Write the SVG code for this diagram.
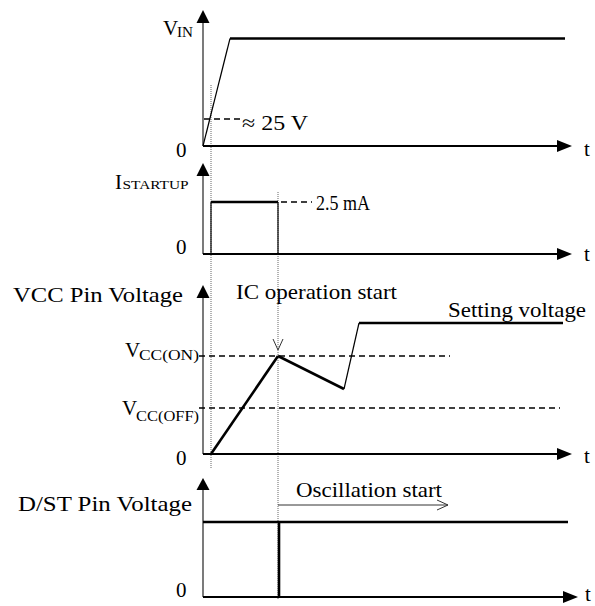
<svg xmlns="http://www.w3.org/2000/svg" width="595" height="606" viewBox="0 0 595 606">
<style>
text{font-family:'Liberation Serif',Tinos,'Nimbus Roman','Nimbus Roman No9 L','Times New Roman',Times,serif;fill:#000}
.lbl{font-size:21px}
.sub{font-size:14px}
.axis{stroke:#000;stroke-width:2;fill:none}
.yaxis{stroke:#333;stroke-width:1.3;fill:none}
.thick{stroke:#000;stroke-width:2.6;fill:none}
.thin{stroke:#000;stroke-width:1.2;fill:none}
.dash{stroke:#000;stroke-width:1.3;stroke-dasharray:6 4;fill:none}
.dot{stroke:#666;stroke-width:1;stroke-dasharray:1 1;fill:none}
.head{fill:#000}
.open{stroke:#333;stroke-width:1;fill:none}
</style>
<rect width="595" height="606" fill="#fff"/>

<g id="guides">
  <line class="dot" x1="211" y1="85" x2="211" y2="468"/>
  <line class="dot" x1="278" y1="192" x2="278" y2="600"/>
</g>

<g id="vin" font-family="Liberation Serif">
  <line class="yaxis" x1="203" y1="20" x2="203" y2="146"/>
  <polygon class="head" points="203,10 196.5,23 209.5,23"/>
  <line class="axis" x1="203" y1="146" x2="560" y2="146"/>
  <polygon class="head" points="572,146 557,140 557,152"/>
  <text class="lbl" x="163" y="35" font-size="20">V</text>
  <text class="sub" x="177" y="37" textLength="16" lengthAdjust="spacingAndGlyphs">IN</text>
  <text class="lbl" x="176" y="157">0</text>
  <text class="lbl" x="584" y="156">t</text>
  <line class="thin" x1="203" y1="146" x2="230" y2="38.5"/>
  <line class="thick" x1="230" y1="38.5" x2="565" y2="38.5"/>
  <line class="dash" x1="204" y1="119" x2="240" y2="119"/>
  <text class="lbl" x="242" y="130" font-size="20" textLength="66" lengthAdjust="spacingAndGlyphs">≈ 25 V</text>
</g>

<g id="istartup" font-family="Liberation Serif">
  <line class="yaxis" x1="203" y1="172" x2="203" y2="254"/>
  <polygon class="head" points="203,163 196.5,176 209.5,176"/>
  <line class="axis" x1="203" y1="254" x2="560" y2="254"/>
  <polygon class="head" points="572,254 557,248 557,260"/>
  <text class="lbl" x="115" y="189" font-size="19">I</text>
  <text x="122.5" y="189" font-size="12.5" textLength="66" lengthAdjust="spacingAndGlyphs">STARTUP</text>
  <text class="lbl" x="176" y="254">0</text>
  <text class="lbl" x="584" y="261">t</text>
  <line class="thin" x1="211" y1="254" x2="211" y2="202"/>
  <line class="thick" x1="211" y1="202" x2="278" y2="202"/>
  <line class="thin" x1="278" y1="202" x2="278" y2="254"/>
  <line class="dash" x1="281" y1="202" x2="312" y2="202"/>
  <text class="lbl" x="316" y="210" font-size="20" textLength="54" lengthAdjust="spacingAndGlyphs">2.5 mA</text>
</g>

<g id="vcc" font-family="Liberation Serif">
  <line class="yaxis" x1="203" y1="295" x2="203" y2="454"/>
  <polygon class="head" points="203,285 196.5,298 209.5,298"/>
  <line class="axis" x1="203" y1="454" x2="560" y2="454"/>
  <polygon class="head" points="572,454 557,448 557,460"/>
  <text class="lbl" x="13" y="302" font-size="22" textLength="170" lengthAdjust="spacingAndGlyphs">VCC Pin Voltage</text>
  <text class="lbl" x="236" y="299" textLength="161" lengthAdjust="spacingAndGlyphs">IC operation start</text>
  <text class="lbl" x="448" y="317" textLength="138" lengthAdjust="spacingAndGlyphs">Setting voltage</text>
  <text class="lbl" x="125" y="357" font-size="20">V</text>
  <text class="sub" x="139" y="360" textLength="60" lengthAdjust="spacingAndGlyphs">CC(ON)</text>
  <text class="lbl" x="122" y="415" font-size="20">V</text>
  <text class="sub" x="136" y="421" textLength="63" lengthAdjust="spacingAndGlyphs">CC(OFF)</text>
  <text class="lbl" x="176" y="465">0</text>
  <text class="lbl" x="584" y="463">t</text>
  <line class="dash" x1="199" y1="356" x2="450" y2="356"/>
  <line class="dash" x1="199" y1="408" x2="560" y2="408"/>
  <polyline class="open" points="273,339 278,350 283,339"/>
  <line class="thick" x1="211" y1="454" x2="278" y2="356" stroke-width="2"/>
  <line class="thick" x1="278" y1="356" x2="344" y2="389"/>
  <line class="thin" x1="344" y1="389" x2="359" y2="323"/>
  <line class="thick" x1="359" y1="323" x2="563" y2="323"/>
</g>

<g id="dst" font-family="Liberation Serif">
  <line class="yaxis" x1="203" y1="488" x2="203" y2="597"/>
  <polygon class="head" points="203,478 196.5,490 209.5,490"/>
  <line class="axis" x1="203" y1="597" x2="566" y2="597"/>
  <polygon class="head" points="578,597 563,591 563,603"/>
  <text class="lbl" x="18" y="511" textLength="174" lengthAdjust="spacingAndGlyphs">D/ST Pin Voltage</text>
  <text class="lbl" x="296" y="497" textLength="146" lengthAdjust="spacingAndGlyphs">Oscillation start</text>
  <text class="lbl" x="176" y="597">0</text>
  <text class="lbl" x="585" y="601">t</text>
  <line class="open" x1="278" y1="505" x2="448" y2="505"/>
  <polyline class="open" points="437,500 448,505 437,510"/>
  <line class="thick" x1="203" y1="522" x2="568" y2="522"/>
  <line class="thick" x1="279" y1="522" x2="279" y2="597"/>
</g>
</svg>
